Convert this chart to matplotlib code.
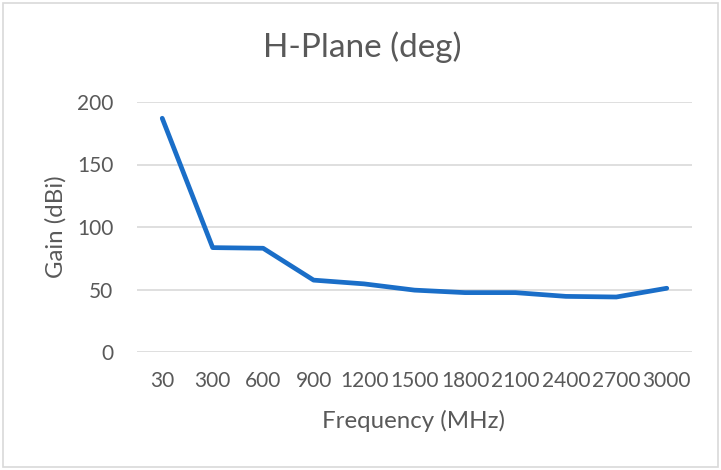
import matplotlib.pyplot as plt
from matplotlib.patches import Rectangle

# data
freqs = ['30', '300', '600', '900', '1200', '1500', '1800', '2100', '2400', '2700', '3000']
gain = [187, 83.5, 83, 57.5, 54.5, 49.5, 47.5, 47.5, 44.5, 44, 51]
y_ticks = [0, 50, 100, 150, 200]

text_col = '#595959'
plt.rcParams['font.family'] = ['Lato', 'DejaVu Sans']

W, H = 721, 470
fig = plt.figure(figsize=(W / 100, H / 100), dpi=100)
ax = fig.add_axes([137 / W, 1 - 352 / H, 555 / W, 250 / H])

x = list(range(len(freqs)))
ax.plot(x, gain, color='#1a6ec8', linewidth=3.4, solid_joinstyle='round',
        solid_capstyle='round', zorder=3)

ax.set_xlim(-0.5, len(freqs) - 0.5)
ax.set_ylim(0, 200)
ax.set_yticks(y_ticks)
ax.set_xticks(x)
ax.set_xticklabels(freqs)
ax.grid(axis='y', color='#d9d9d9', linewidth=1.2)
ax.set_axisbelow(True)
for s in ax.spines.values():
    s.set_visible(False)
ax.tick_params(length=0, labelsize=15, colors=text_col)
ax.tick_params(axis='y', pad=17)
ax.tick_params(axis='x', pad=14)

# titles placed by baseline to match the reference
fig.text(362 / W, 1 - 57 / H, 'H-Plane (deg)', ha='center', va='baseline',
         fontsize=24, color=text_col)
fig.text(414 / W, 1 - 428 / H, 'Frequency (MHz)', ha='center', va='baseline',
         fontsize=17.3, color=text_col)
fig.text(63 / W, 1 - 227 / H, 'Gain (dBi)', ha='center', va='baseline',
         rotation=90, rotation_mode='anchor', fontsize=17.3, color=text_col)

# outer chart frame
fig.patches.append(Rectangle((3 / W, 3 / H), 715 / W, 464 / H, transform=fig.transFigure,
                             fill=False, edgecolor='#d9d9d9', linewidth=1.2))

fig.savefig('out.png', dpi=100)
